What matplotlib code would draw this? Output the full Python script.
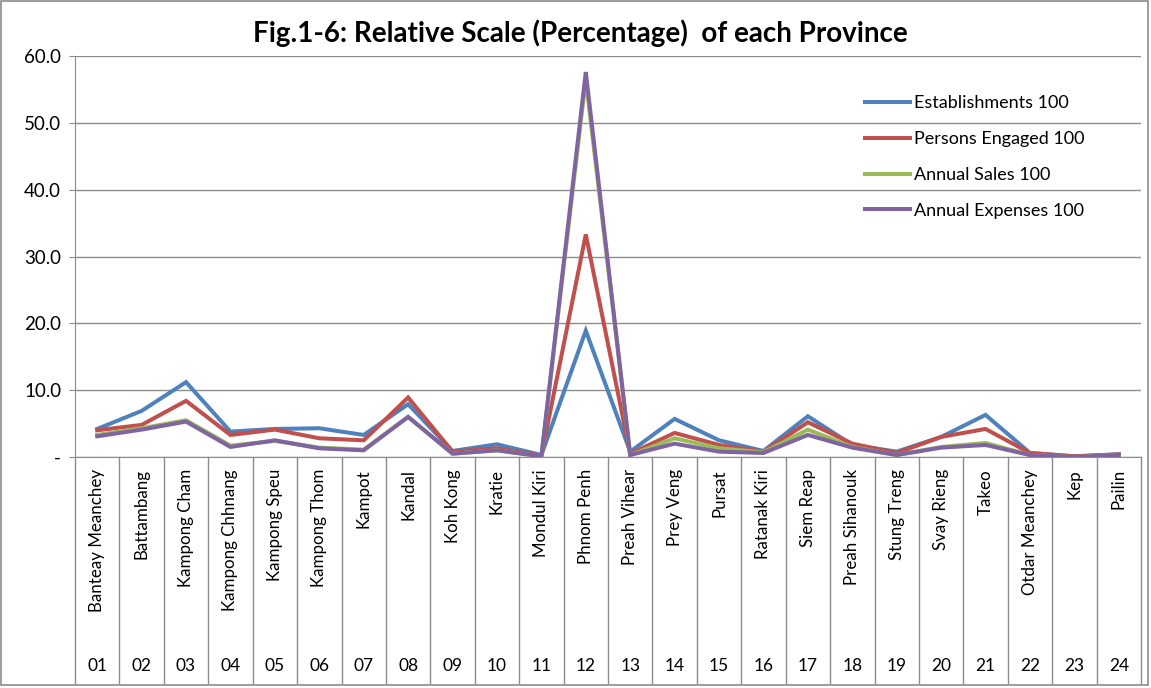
import matplotlib.pyplot as plt
from matplotlib.patches import Rectangle
import matplotlib.transforms as mtransforms

plt.rcParams['font.family'] = ['Lato', 'DejaVu Sans']

codes = ["01", "02", "03", "04", "05", "06", "07", "08", "09", "10", "11", "12",
         "13", "14", "15", "16", "17", "18", "19", "20", "21", "22", "23", "24"]
provinces = ["Banteay Meanchey", "Battambang", "Kampong Cham", "Kampong Chhnang",
             "Kampong Speu", "Kampong Thom", "Kampot", "Kandal", "Koh Kong", "Kratie",
             "Mondul Kiri", "Phnom Penh", "Preah Vihear", "Prey Veng", "Pursat",
             "Ratanak Kiri", "Siem Reap", "Preah Sihanouk", "Stung Treng", "Svay Rieng",
             "Takeo", "Otdar Meanchey", "Kep", "Pailin"]

establishments = [4.2, 6.9, 11.2, 3.8, 4.2, 4.3, 3.3, 7.9, 0.9, 1.9, 0.3, 18.9,
                  0.8, 5.7, 2.5, 0.9, 6.1, 1.8, 0.8, 3.0, 6.3, 0.6, 0.1, 0.4]
persons = [4.0, 4.8, 8.4, 3.3, 4.1, 2.8, 2.5, 8.9, 0.8, 1.3, 0.2, 33.3,
           0.5, 3.6, 1.8, 0.8, 5.2, 2.0, 0.6, 3.0, 4.2, 0.6, 0.1, 0.4]
sales = [3.3, 4.3, 5.5, 1.7, 2.4, 1.4, 1.1, 6.0, 0.5, 1.0, 0.1, 56.5,
         0.3, 2.8, 1.3, 0.7, 4.1, 1.5, 0.3, 1.5, 2.1, 0.3, 0.0, 0.3]
expenses = [3.1, 4.1, 5.3, 1.5, 2.5, 1.3, 1.0, 6.0, 0.5, 1.0, 0.1, 57.6,
            0.3, 2.0, 0.8, 0.6, 3.3, 1.4, 0.3, 1.4, 1.8, 0.3, 0.0, 0.3]

series = [
    ("Establishments 100", establishments, "#4F81BD"),
    ("Persons Engaged 100", persons, "#C0504D"),
    ("Annual Sales 100", sales, "#9BBB59"),
    ("Annual Expenses 100", expenses, "#8064A2"),
]

fig = plt.figure(figsize=(11.51, 6.88), dpi=100)
ax = fig.add_axes([75 / 1151, 1 - 457 / 688, (1141 - 75) / 1151, (457 - 56) / 688])

x = list(range(len(codes)))
for name, vals, col in series:
    ax.plot(x, vals, color=col, lw=2.9, label=name, solid_joinstyle='miter')

ax.set_xlim(-0.5, len(codes) - 0.5)
ax.set_ylim(0, 60)
ax.set_yticks([0, 10, 20, 30, 40, 50, 60])
ax.set_yticklabels(["-", "10.0", "20.0", "30.0", "40.0", "50.0", "60.0"], fontsize=13.5)
ax.yaxis.grid(True, color="#8c8c8c", lw=1)
ax.set_axisbelow(True)
ax.tick_params(axis='y', length=4, color="#8c8c8c", pad=6)
ax.set_xticks([])
for s in ["top", "right"]:
    ax.spines[s].set_visible(False)
ax.spines["left"].set_color("#8c8c8c")
ax.spines["bottom"].set_color("#8c8c8c")

# two level category axis
trans = mtransforms.blended_transform_factory(ax.transData, ax.transAxes)
for i in x:
    ax.text(i, -0.03, provinces[i], rotation=90, ha='center', va='top',
            fontsize=12.2, transform=trans)
    ax.text(i, -0.52, codes[i], ha='center', va='center', fontsize=12.5, transform=trans)
for b in range(len(codes) + 1):
    ax.plot([b - 0.5, b - 0.5], [0, -0.564], color="#8c8c8c", lw=1,
            transform=trans, clip_on=False)

ax.legend(loc='upper left', bbox_to_anchor=(0.726, 0.943), frameon=False,
          fontsize=13, handlelength=2.5, labelspacing=1.1, handletextpad=0.2)

fig.text(0.504, 1 - 33 / 688, "Fig.1-6: Relative Scale (Percentage)  of each Province",
         ha='center', va='center', fontsize=20, fontweight='bold')

fig.patches.append(Rectangle((0.001, 0.004), 0.996, 0.994, transform=fig.transFigure,
                             fill=False, edgecolor="#8c8c8c", lw=1.2))

fig.savefig("out.png", dpi=100)
